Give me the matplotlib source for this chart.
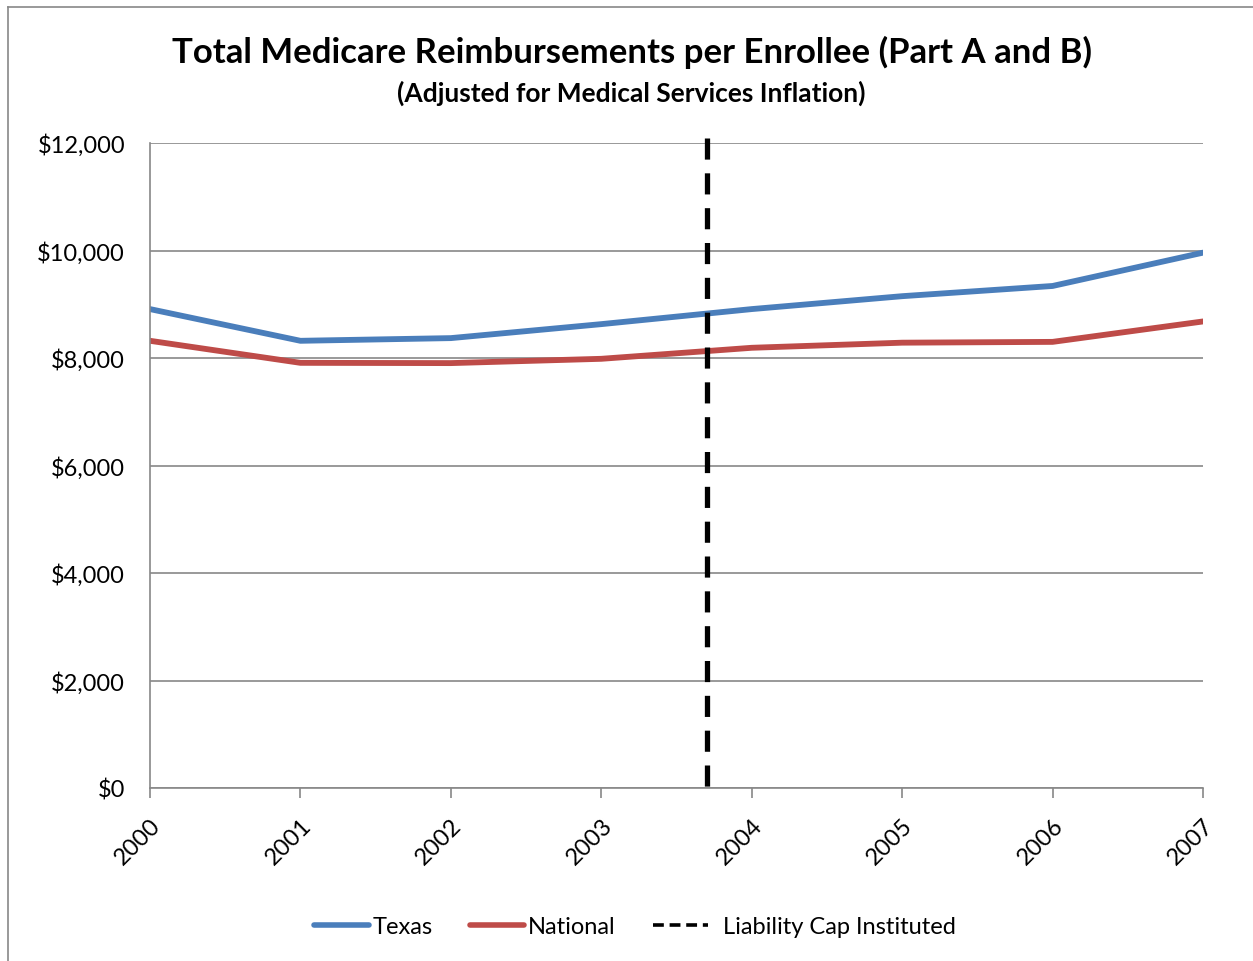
import matplotlib
matplotlib.use('Agg')
import matplotlib.pyplot as plt
from matplotlib.lines import Line2D
from matplotlib.ticker import FuncFormatter

years = [2000, 2001, 2002, 2003, 2004, 2005, 2006, 2007]
texas = [8910, 8320, 8370, 8630, 8910, 9150, 9340, 9960]
national = [8320, 7910, 7905, 7985, 8190, 8285, 8300, 8680]
cap_year = 2003.7

plt.rcParams['font.family'] = ['Lato', 'DejaVu Sans']

fig = plt.figure(figsize=(12.53, 9.62), dpi=100)
ax = fig.add_axes([150 / 1253, 1 - 789 / 962, 1053 / 1253, 645 / 962])

# outer chart border (left and top edges visible)
fig.add_artist(Line2D([8 / 1253, 8 / 1253], [0, 1 - 8 / 962], color='#888888', lw=1.2))
fig.add_artist(Line2D([8 / 1253, 1], [1 - 8 / 962, 1 - 8 / 962], color='#888888', lw=1.2))

ax.plot(years, texas, '-', lw=4.2, color='#4A7EBB', solid_capstyle='round')
ax.plot(years, national, '-', lw=4.2, color='#BE4B48', solid_capstyle='round')
ax.plot([cap_year, cap_year], [12100, -100], color='black', lw=3.8, dashes=(4, 2.6),
        clip_on=False)

ax.set_xlim(2000, 2007)
ax.set_ylim(0, 12000)
ax.set_yticks(range(0, 12001, 2000))
ax.yaxis.set_major_formatter(FuncFormatter(lambda v, p: '${:,.0f}'.format(v)))
ax.set_xticks(years)
ax.set_xticklabels([str(y) for y in years], rotation=45, ha='right', rotation_mode='anchor')
ax.tick_params(axis='x', length=7, width=1.2, color='#888888', labelsize=17, pad=12)
ax.tick_params(axis='y', length=0, labelsize=17, pad=18)
ax.grid(axis='y', color='#888888', lw=1.2)
ax.set_axisbelow(True)
for s in ['top', 'right']:
    ax.spines[s].set_visible(False)
for s in ['left', 'bottom']:
    ax.spines[s].set_color('#888888')
    ax.spines[s].set_linewidth(1.2)

fig.text(0.504, 1 - 52 / 962, 'Total Medicare Reimbursements per Enrollee (Part A and B)',
         ha='center', va='center', fontsize=25, fontweight='bold')
fig.text(0.504, 1 - 93 / 962, '(Adjusted for Medical Services Inflation)',
         ha='center', va='center', fontsize=19, fontweight='bold')

handles = [Line2D([], [], color='#4A7EBB', lw=4, solid_capstyle='round'),
           Line2D([], [], color='#BE4B48', lw=4, solid_capstyle='round'),
           Line2D([], [], color='black', lw=2.6, dashes=(3, 1.6))]
labels = ['Texas', 'National', '  Liability Cap Instituted']
fig.legend(handles, labels, loc='center', bbox_to_anchor=(0.507, 1 - 928 / 962), ncol=3,
           frameon=False, fontsize=17, handlelength=2.3, handletextpad=0.15, columnspacing=1.6)

fig.savefig('out.png', dpi=100)
